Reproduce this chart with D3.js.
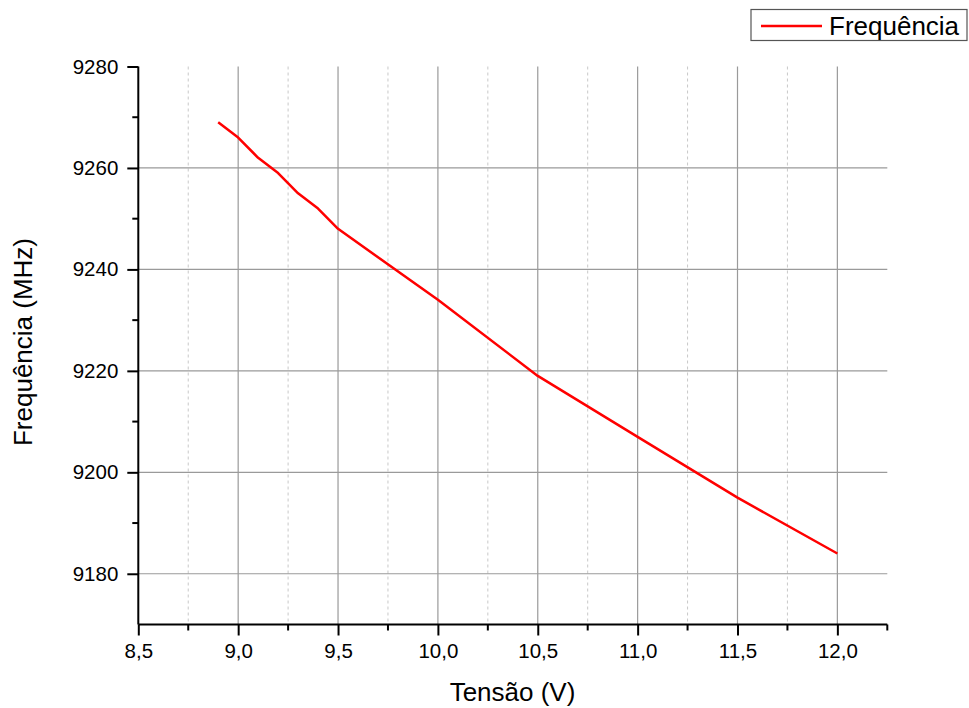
<!DOCTYPE html>
<html>
<head>
<meta charset="utf-8">
<script src="https://cdn.jsdelivr.net/npm/d3@7"></script>
<style>
  html, body { margin: 0; padding: 0; background: #fff; }
  svg { display: block; font-family: "Liberation Sans", Arial, sans-serif; }
</style>
</head>
<body>
<svg id="chart" width="969" height="708"></svg>
<script>
// Tensão (V) vs. Frequência (MHz)
const tensao = [8.9, 9.0, 9.1, 9.2, 9.3, 9.4, 9.5, 10.0, 10.5, 11.0, 11.5, 12.0];
const frequencia = [9269, 9266, 9262, 9259, 9255, 9252, 9248, 9234, 9219, 9207, 9195, 9184];

const xMajorTicks = [8.5, 9.0, 9.5, 10.0, 10.5, 11.0, 11.5, 12.0];
const xMinorTicks = [8.75, 9.25, 9.75, 10.25, 10.75, 11.25, 11.75, 12.25];
const yMajorTicks = [9180, 9200, 9220, 9240, 9260, 9280];
const yMinorTicks = [9170, 9190, 9210, 9230, 9250, 9270];

const seriesName = "Frequência";
const xTitle = "Tensão (V)";
const yTitle = "Frequência (MHz)";

const svg = d3.select("#chart");
const plotL = 138.3, plotR = 887.3, plotT = 66.5, plotB = 624.5;

const x = d3.scaleLinear().domain([8.5, 12.25]).range([plotL, plotR]);
const y = d3.scaleLinear().domain([9170, 9280]).range([plotB, plotT]);

const fmt = d => d3.format(".1f")(d).replace(".", ",");

// minor vertical grid (dotted)
svg.append("g").selectAll("line").data(xMinorTicks.filter(d => d < 12.25)).join("line")
  .attr("x1", d => x(d)).attr("x2", d => x(d))
  .attr("y1", plotT).attr("y2", plotB)
  .attr("stroke", "#c8c8c8").attr("stroke-width", 1)
  .attr("stroke-dasharray", "3,3");

// major vertical grid
svg.append("g").selectAll("line").data(xMajorTicks.filter(d => d > 8.5)).join("line")
  .attr("x1", d => x(d)).attr("x2", d => x(d))
  .attr("y1", plotT).attr("y2", plotB)
  .attr("stroke", "#9a9a9a").attr("stroke-width", 1.2);

// major horizontal grid
svg.append("g").selectAll("line").data(yMajorTicks.filter(d => d < 9280)).join("line")
  .attr("x1", plotL).attr("x2", plotR)
  .attr("y1", d => y(d)).attr("y2", d => y(d))
  .attr("stroke", "#9a9a9a").attr("stroke-width", 1.2);

// bottom axis
const xAxis = svg.append("g").attr("transform", `translate(0,${plotB})`)
  .call(d3.axisBottom(x).tickValues(xMajorTicks).tickFormat(fmt).tickSize(11).tickPadding(8));
xAxis.append("g").selectAll("line").data(xMinorTicks).join("line")
  .attr("x1", d => x(d)).attr("x2", d => x(d)).attr("y1", 0).attr("y2", 6)
  .attr("stroke", "#000").attr("stroke-width", 2);

// left axis
const yAxis = svg.append("g").attr("transform", `translate(${plotL},0)`)
  .call(d3.axisLeft(y).tickValues(yMajorTicks).tickFormat(d3.format("d")).tickSize(11).tickPadding(9));
yAxis.append("g").selectAll("line").data(yMinorTicks.filter(d => d > 9170)).join("line")
  .attr("x1", 0).attr("x2", -6).attr("y1", d => y(d)).attr("y2", d => y(d))
  .attr("stroke", "#000").attr("stroke-width", 2);

[xAxis, yAxis].forEach(a => {
  a.select(".domain").attr("stroke", "#000").attr("stroke-width", 2);
  a.selectAll(".tick line").attr("stroke", "#000").attr("stroke-width", 2);
  a.selectAll(".tick text").attr("fill", "#000")
    .style("font-family", "'Liberation Sans', Arial, sans-serif").style("font-size", "20.5px");
});
// axis lines without end caps
xAxis.select(".domain").attr("d", `M${plotL},0H${plotR}`);
yAxis.select(".domain").attr("d", `M0,${plotB}V${plotT}`);

// data line
const line = d3.line().x((d, i) => x(tensao[i])).y(d => y(d));
svg.append("path").datum(frequencia)
  .attr("d", line)
  .attr("fill", "none").attr("stroke", "#ff0000").attr("stroke-width", 2.5)
  .attr("stroke-linejoin", "round");

// axis titles
svg.append("text").attr("x", 512.5).attr("y", 701)
  .attr("text-anchor", "middle").style("font-size", "26px").attr("fill", "#000")
  .text(xTitle);
svg.append("text").attr("transform", `translate(32,342) rotate(-90)`)
  .attr("text-anchor", "middle").style("font-size", "26px").attr("fill", "#000")
  .text(yTitle);

// legend
const lg = svg.append("g");
lg.append("rect").attr("x", 751).attr("y", 9.5).attr("width", 216).attr("height", 31)
  .attr("fill", "#fff").attr("stroke", "#555").attr("stroke-width", 1.2);
lg.append("line").attr("x1", 761).attr("x2", 822).attr("y1", 26).attr("y2", 26)
  .attr("stroke", "#ff0000").attr("stroke-width", 2.5);
lg.append("text").attr("x", 829).attr("y", 34.5)
  .style("font-size", "26px").attr("fill", "#000").text(seriesName);
</script>
</body>
</html>
